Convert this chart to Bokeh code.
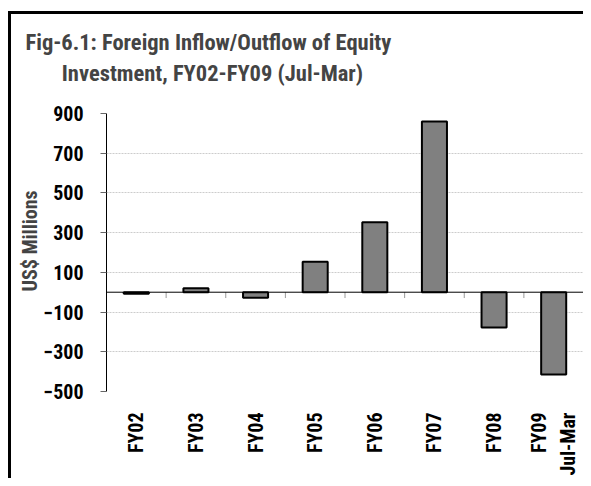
import math
from bokeh.plotting import figure
from bokeh.models import FactorRange, Range1d, FixedTicker, Title, Span, ColumnDataSource
from bokeh.embed import file_html
from bokeh.resources import INLINE

categories = ["FY02", "FY03", "FY04", "FY05", "FY06", "FY07", "FY08", "FY09\nJul-Mar"]
values = [-8, 20, -28, 153, 352, 860, -178, -415]
y_ticks = [-500, -300, -100, 100, 300, 500, 700, 900]
title_lines = ["Fig-6.1: Foreign Inflow/Outflow of Equity", "Investment, FY02-FY09 (Jul-Mar)"]

FONT = "Roboto Condensed"

p = figure(x_range=FactorRange(*categories, range_padding=0),
           y_range=Range1d(-500, 900),
           width=583, height=478, output_backend="svg", toolbar_location=None,
           min_border_left=106, min_border_right=0, min_border_top=112, min_border_bottom=80)
p.outline_line_color = None
p.border_fill_color = None
p.background_fill_color = "white"
# outer box of the figure: only its top and left edges fall inside the picture
p.styles = {"box-shadow": "inset 8px 11px 0 0 white, inset 11px 14px 0 0 black"}

src = ColumnDataSource(dict(x=categories, top=values))
p.vbar(x="x", top="top", bottom=0, width=0.42, source=src,
       fill_color="#808080", line_color="black", line_width=2)

# zero line and category separator ticks
p.add_layout(Span(location=0, dimension="width", line_color="black", line_width=1))
px_per_unit = (398 - 112) / 1400.0
tick_len = 6 / px_per_unit
bounds = list(range(1, len(categories) + 1))
p.segment(x0=bounds, y0=[0] * len(bounds), x1=bounds, y1=[-tick_len] * len(bounds),
          line_color="#999999", line_width=1)

# grid
p.xgrid.grid_line_color = None
p.ygrid.grid_line_color = "#cccccc"
p.ygrid.grid_line_dash = "2 1"
p.ygrid.grid_line_width = 1

# y axis (leading no-break spaces nudge the centred title slightly upward)
p.yaxis.ticker = FixedTicker(ticks=y_ticks)
p.yaxis.axis_label = "\u00a0" * 5 + "US$ Millions"
p.yaxis.axis_label_text_font = FONT
p.yaxis.axis_label_text_font_size = "20px"
p.yaxis.axis_label_text_font_style = "bold"
p.yaxis.axis_label_standoff = -1
p.yaxis.major_label_text_font = FONT
p.yaxis.major_label_text_font_size = "20px"
p.yaxis.major_label_text_font_style = "bold"
p.yaxis.major_label_text_color = "black"
p.yaxis.major_label_standoff = 17
p.yaxis.axis_line_color = "black"
p.yaxis.major_tick_line_color = "#666666"
p.yaxis.major_tick_out = 6
p.yaxis.major_tick_in = 0
p.yaxis.minor_tick_line_color = None

# x axis (labels only)
p.xaxis.axis_line_color = None
p.xaxis.major_tick_line_color = None
p.xaxis.minor_tick_line_color = None
p.xaxis.major_label_orientation = math.pi / 2
p.xaxis.major_label_standoff = 15
p.xaxis.major_label_text_font = FONT
p.xaxis.major_label_text_font_size = "20px"
p.xaxis.major_label_text_font_style = "bold"
p.xaxis.major_label_text_color = "black"

# two-line title, second line indented
title_text = title_lines[0] + "\n" + "\u00a0" * 7 + title_lines[1]
p.add_layout(Title(text=title_text, offset=-81,
                   text_font=FONT, text_font_size="22.5px", text_font_style="bold",
                   text_line_height=1.2, standoff=54), "above")

open("out.html", "w").write(file_html(p, INLINE))
